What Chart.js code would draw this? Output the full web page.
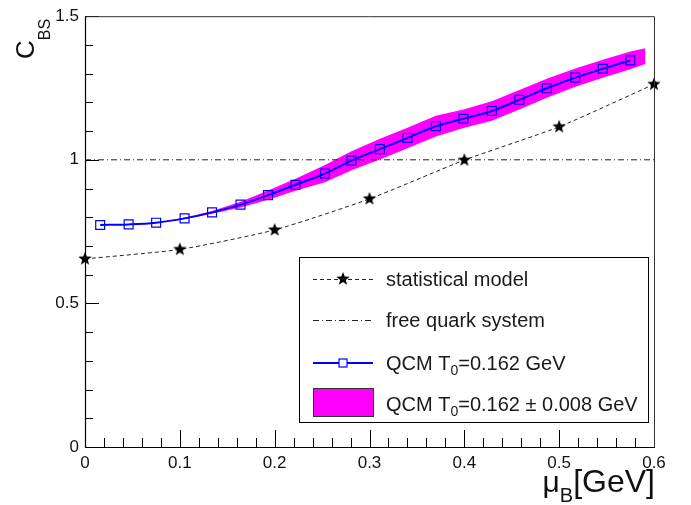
<!DOCTYPE html>
<html>
<head>
<meta charset="utf-8">
<script src="https://cdn.jsdelivr.net/npm/chart.js@4.4.1/dist/chart.umd.min.js"></script>
<style>
  html, body { margin: 0; padding: 0; background: #fff; }
  canvas { display: block; }
</style>
</head>
<body>
<canvas id="c" width="691" height="505"></canvas>
<script>
// statistical model (stars)
const statX = [0, 0.1, 0.2, 0.3, 0.4, 0.5, 0.6];
const statY = [0.655, 0.688, 0.756, 0.864, 0.999, 1.115, 1.263];

// QCM T0 = 0.162 GeV (open squares)
const qcmX = [0.016, 0.046, 0.075, 0.105, 0.134, 0.164, 0.193, 0.222, 0.253, 0.281,
              0.311, 0.340, 0.370, 0.399, 0.429, 0.458, 0.487, 0.517, 0.546, 0.575];
const qcmY = [0.773, 0.775, 0.781, 0.796, 0.817, 0.844, 0.877, 0.913, 0.952, 0.997,
              1.037, 1.076, 1.117, 1.143, 1.170, 1.209, 1.249, 1.286, 1.317, 1.346];

// QCM T0 = 0.162 +- 0.008 GeV band
const bandX = [0.016, 0.046, 0.075, 0.105, 0.134, 0.164, 0.193, 0.222, 0.253, 0.281,
               0.311, 0.340, 0.370, 0.399, 0.429, 0.458, 0.487, 0.517, 0.546, 0.575, 0.591];
const bandHigh = [0.773, 0.775, 0.781, 0.798, 0.822, 0.854, 0.893, 0.934, 0.982, 1.030,
                  1.073, 1.112, 1.153, 1.175, 1.204, 1.243, 1.282, 1.318, 1.348, 1.377, 1.388];
const bandLow = [0.773, 0.775, 0.781, 0.794, 0.812, 0.834, 0.861, 0.892, 0.922, 0.964,
                 1.001, 1.040, 1.081, 1.111, 1.136, 1.175, 1.216, 1.254, 1.286, 1.315, 1.334];

// free quark system
const freeX = [0, 0.6];
const freeY = [1, 1];

const xTicks = [0, 0.1, 0.2, 0.3, 0.4, 0.5, 0.6];
const yTicks = [0, 0.5, 1, 1.5];

const FONT = '"Liberation Sans", Arial, Helvetica, sans-serif';
const pts = (xs, ys) => xs.map((x, i) => ({ x, y: ys[i] }));

function makeStar(r) {
  const c = document.createElement('canvas');
  const s = Math.ceil(r * 2) + 2;
  c.width = c.height = s;
  const g = c.getContext('2d');
  g.beginPath();
  for (let i = 0; i < 10; i++) {
    const rad = i % 2 ? r * 0.42 : r;
    const a = -Math.PI / 2 + i * Math.PI / 5;
    g.lineTo(s / 2 + rad * Math.cos(a), s / 2 + rad * Math.sin(a));
  }
  g.closePath();
  g.fillStyle = '#000';
  g.fill();
  return c;
}
const star = makeStar(7);

// draws text pieces one after another, each with its own size and vertical shift
function drawParts(ctx, x, y, parts) {
  ctx.textAlign = 'left';
  ctx.textBaseline = 'alphabetic';
  for (const p of parts) {
    ctx.font = p.size + 'px ' + FONT;
    ctx.fillText(p.t, x, y + (p.dy || 0));
    x += ctx.measureText(p.t).width;
  }
  return x;
}
function partsWidth(ctx, parts) {
  let w = 0;
  for (const p of parts) {
    ctx.font = p.size + 'px ' + FONT;
    w += ctx.measureText(p.t).width;
  }
  return w;
}

const rootFrame = {
  id: 'rootFrame',
  afterDatasetsDraw(chart) {
    const { ctx, chartArea: a, scales: { x, y } } = chart;
    ctx.save();
    ctx.lineWidth = 1;
    ctx.strokeStyle = '#000';
    ctx.beginPath();
    // x ticks, pointing inward
    for (let v = 0; v <= 30; v++) {
      const px = Math.round(x.getPixelForValue(v * 0.02)) + 0.5;
      const len = v % 5 === 0 ? 17 : 9;
      ctx.moveTo(px, a.bottom);
      ctx.lineTo(px, a.bottom - len);
    }
    for (let v = 0; v <= 15; v++) {
      const py = Math.round(y.getPixelForValue(v * 0.1)) + 0.5;
      const len = v % 5 === 0 ? 14 : 8;
      ctx.moveTo(a.left, py);
      ctx.lineTo(a.left + len, py);
    }
    ctx.stroke();
    // frame
    ctx.strokeStyle = '#333';
    ctx.beginPath();
    ctx.moveTo(a.left, a.top + 0.5);
    ctx.lineTo(a.right + 0.5, a.top + 0.5);
    ctx.lineTo(a.right + 0.5, a.bottom);
    ctx.stroke();
    ctx.strokeStyle = '#000';
    ctx.lineWidth = 1.2;
    ctx.beginPath();
    ctx.moveTo(a.left + 0.5, a.top);
    ctx.lineTo(a.left + 0.5, a.bottom + 0.5);
    ctx.lineTo(a.right + 1, a.bottom + 0.5);
    ctx.stroke();
    ctx.restore();
  },
  afterDraw(chart) {
    const { ctx, chartArea: a } = chart;
    ctx.save();
    ctx.fillStyle = '#111';

    // x axis title: mu_B[GeV], right aligned to the frame
    const xt = [{ t: 'μ', size: 30 }, { t: 'B', size: 20, dy: 10 }, { t: '[GeV]', size: 32 }];
    drawParts(ctx, a.right + 1 - partsWidth(ctx, xt), 492, xt);

    // y axis title: C_BS, rotated
    ctx.save();
    ctx.translate(34, 59);
    ctx.rotate(-Math.PI / 2);
    drawParts(ctx, 0, 0, [{ t: 'C', size: 26 }, { t: 'BS', size: 16, dy: 16 }]);
    ctx.restore();

    // legend
    const L = 299, T = 257, R = 648, B = 422;
    ctx.fillStyle = '#fff';
    ctx.fillRect(L, T, R - L, B - T);
    ctx.strokeStyle = '#000';
    ctx.lineWidth = 1;
    ctx.strokeRect(L + 0.5, T + 0.5, R - L, B - T);

    const sx0 = 313, sx1 = 373, sxc = 343, tx = 386;
    const rows = [279, 320, 363, 404];

    ctx.lineWidth = 1;
    ctx.strokeStyle = '#222';
    ctx.setLineDash([4, 3]);
    ctx.beginPath(); ctx.moveTo(sx0, rows[0] + 0.5); ctx.lineTo(sx1, rows[0] + 0.5); ctx.stroke();
    ctx.drawImage(star, sxc - star.width / 2, rows[0] - star.height / 2);

    ctx.setLineDash([6, 3, 1, 3]);
    ctx.beginPath(); ctx.moveTo(sx0, rows[1] + 0.5); ctx.lineTo(sx1, rows[1] + 0.5); ctx.stroke();
    ctx.setLineDash([]);

    ctx.strokeStyle = '#0000ff';
    ctx.lineWidth = 2;
    ctx.beginPath(); ctx.moveTo(sx0, rows[2]); ctx.lineTo(sx1, rows[2]); ctx.stroke();
    ctx.lineWidth = 1.2;
    ctx.fillStyle = '#fff';
    ctx.fillRect(sxc - 4, rows[2] - 4, 8, 8);
    ctx.strokeRect(sxc - 4, rows[2] - 4, 8, 8);

    ctx.fillStyle = '#ff00ff';
    ctx.fillRect(313, 388, 60, 28);
    ctx.strokeStyle = '#333';
    ctx.lineWidth = 1;
    ctx.strokeRect(313.5, 388.5, 60, 28);

    ctx.fillStyle = '#1a1a1a';
    drawParts(ctx, tx, rows[0] + 7, [{ t: 'statistical model', size: 20 }]);
    drawParts(ctx, tx, rows[1] + 7, [{ t: 'free quark system', size: 20 }]);
    drawParts(ctx, tx, rows[2] + 7, [{ t: 'QCM T', size: 20 }, { t: '0', size: 14, dy: 5 }, { t: '=0.162 GeV', size: 20 }]);
    drawParts(ctx, tx, rows[3] + 7, [{ t: 'QCM T', size: 20 }, { t: '0', size: 14, dy: 5 }, { t: '=0.162 ± 0.008 GeV', size: 20 }]);
    ctx.restore();
  }
};

new Chart(document.getElementById('c'), {
  type: 'line',
  data: {
    datasets: [
      {
        label: 'QCM T0=0.162 GeV',
        data: pts(qcmX, qcmY),
        borderColor: '#0000ff',
        borderWidth: 2,
        tension: 0.35,
        pointStyle: 'rect',
        pointRadius: 6.3,
        pointBorderColor: '#0000ff',
        pointBackgroundColor: 'rgba(0,0,0,0)',
        pointBorderWidth: 1.2,
        fill: false,
        order: 1,
      },
      {
        label: 'statistical model',
        data: pts(statX, statY),
        borderColor: '#222',
        borderWidth: 1,
        borderDash: [4, 3],
        tension: 0.2,
        pointStyle: star,
        pointRadius: 7,
        fill: false,
        clip: false,
        order: 2,
      },
      {
        label: 'free quark system',
        data: pts(freeX, freeY),
        borderColor: '#222',
        borderWidth: 1,
        borderDash: [6, 3, 1, 3],
        pointRadius: 0,
        fill: false,
        order: 3,
      },
      {
        label: 'band low',
        data: pts(bandX, bandLow),
        borderWidth: 0,
        borderColor: 'rgba(0,0,0,0)',
        pointRadius: 0,
        tension: 0,
        fill: false,
        order: 5,
      },
      {
        label: 'QCM T0=0.162 ± 0.008 GeV',
        data: pts(bandX, bandHigh),
        borderWidth: 0,
        borderColor: 'rgba(0,0,0,0)',
        backgroundColor: '#ff00ff',
        pointRadius: 0,
        tension: 0,
        fill: '-1',
        order: 4,
      },
    ],
  },
  options: {
    responsive: false,
    animation: false,
    events: [],
    layout: { padding: { left: 0, right: 37, top: 15, bottom: 0 } },
    plugins: { legend: { display: false }, tooltip: { enabled: false } },
    scales: {
      x: {
        type: 'linear',
        min: 0,
        max: 0.6,
        afterFit: s => { s.height = 58; },
        afterBuildTicks: s => { s.ticks = xTicks.map(v => ({ value: v })); },
        grid: { display: false, drawTicks: false },
        border: { display: false },
        ticks: {
          autoSkip: false,
          maxRotation: 0,
          padding: 6,
          color: '#111',
          font: { family: FONT, size: 17 },
          callback: v => String(Number(v.toFixed(1))),
        },
      },
      y: {
        type: 'linear',
        min: 0,
        max: 1.5,
        afterFit: s => { s.width = 85; },
        afterBuildTicks: s => { s.ticks = yTicks.map(v => ({ value: v })); },
        grid: { display: false, drawTicks: false },
        border: { display: false },
        ticks: {
          padding: 6,
          color: '#111',
          font: { family: FONT, size: 17 },
          callback: v => String(Number(v.toFixed(1))),
        },
      },
    },
  },
  plugins: [rootFrame],
});
</script>
</body>
</html>
